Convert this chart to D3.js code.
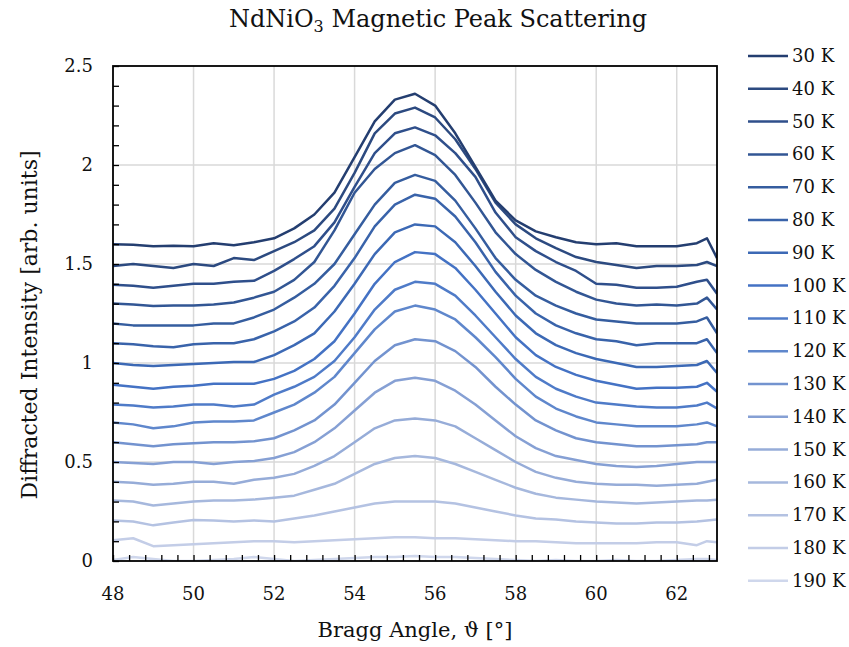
<!DOCTYPE html>
<html>
<head>
<meta charset="utf-8">
<script src="https://cdn.jsdelivr.net/npm/d3@7"></script>
<style>
  body { margin: 0; background: #fff; }
  text { font-family: "DejaVu Serif", "Liberation Serif", serif; fill: #111; }
</style>
</head>
<body>
<svg id="chart" width="849" height="647"></svg>
<script>
// Bragg angle samples (deg)
const angles = [48, 48.5, 49, 49.5, 50, 50.5, 51, 51.5, 52, 52.5, 53, 53.5, 54, 54.5, 55, 55.5,
  56, 56.5, 57, 57.5, 58, 58.5, 59, 59.5, 60, 60.5, 61, 61.5, 62, 62.5, 62.75, 63];

const temps = [30, 40, 50, 60, 70, 80, 90, 100, 110, 120, 130, 140, 150, 160, 170, 180, 190];

const s30 = [1.600, 1.597, 1.590, 1.592, 1.590, 1.605, 1.595, 1.610, 1.630, 1.680, 1.750, 1.860, 2.040, 2.220, 2.330, 2.360,
  2.300, 2.160, 1.990, 1.820, 1.720, 1.665, 1.635, 1.610, 1.600, 1.605, 1.590, 1.590, 1.590, 1.605, 1.630, 1.530];
const s40 = [1.49, 1.50, 1.49, 1.48, 1.50, 1.49, 1.53, 1.52, 1.565, 1.61, 1.67, 1.78, 1.96, 2.16, 2.26, 2.29,
  2.24, 2.13, 1.98, 1.81, 1.70, 1.63, 1.58, 1.535, 1.51, 1.495, 1.48, 1.49, 1.49, 1.495, 1.51, 1.49];
const s50 = [1.395, 1.39, 1.38, 1.39, 1.40, 1.40, 1.41, 1.415, 1.465, 1.525, 1.59, 1.71, 1.89, 2.06, 2.16, 2.19,
  2.15, 2.06, 1.94, 1.76, 1.635, 1.565, 1.51, 1.465, 1.40, 1.395, 1.38, 1.38, 1.385, 1.41, 1.42, 1.35];
const s60 = [1.30, 1.295, 1.288, 1.29, 1.29, 1.295, 1.306, 1.33, 1.36, 1.42, 1.51, 1.67, 1.86, 1.98, 2.06, 2.10,
  2.05, 1.95, 1.81, 1.66, 1.55, 1.47, 1.41, 1.36, 1.32, 1.30, 1.29, 1.295, 1.29, 1.30, 1.33, 1.27];
const s70 = [1.20, 1.19, 1.19, 1.19, 1.19, 1.20, 1.20, 1.23, 1.27, 1.33, 1.40, 1.50, 1.65, 1.80, 1.91, 1.95,
  1.92, 1.82, 1.68, 1.53, 1.42, 1.34, 1.29, 1.25, 1.22, 1.21, 1.20, 1.20, 1.20, 1.21, 1.23, 1.15];
const s80 = [1.10, 1.095, 1.085, 1.08, 1.095, 1.10, 1.10, 1.12, 1.16, 1.21, 1.28, 1.39, 1.53, 1.69, 1.80, 1.85,
  1.83, 1.74, 1.61, 1.46, 1.34, 1.25, 1.19, 1.15, 1.12, 1.11, 1.09, 1.10, 1.10, 1.10, 1.12, 1.05];
const s90 = [1.00, 0.99, 0.985, 0.99, 0.995, 1.00, 1.005, 1.005, 1.04, 1.09, 1.15, 1.26, 1.40, 1.55, 1.66, 1.70,
  1.69, 1.61, 1.49, 1.36, 1.24, 1.15, 1.09, 1.05, 1.02, 1.00, 0.98, 0.98, 0.985, 0.99, 1.01, 0.95];
const s100 = [0.89, 0.88, 0.87, 0.88, 0.885, 0.895, 0.895, 0.895, 0.92, 0.96, 1.02, 1.11, 1.25, 1.40, 1.51, 1.56,
  1.55, 1.48, 1.37, 1.25, 1.13, 1.04, 0.98, 0.94, 0.91, 0.89, 0.87, 0.875, 0.875, 0.88, 0.90, 0.855];
const s110 = [0.79, 0.785, 0.775, 0.78, 0.79, 0.79, 0.78, 0.79, 0.84, 0.88, 0.93, 1.01, 1.13, 1.27, 1.37, 1.41,
  1.40, 1.34, 1.24, 1.13, 1.02, 0.93, 0.87, 0.83, 0.80, 0.79, 0.78, 0.775, 0.775, 0.785, 0.80, 0.77];
const s120 = [0.70, 0.69, 0.67, 0.68, 0.70, 0.705, 0.705, 0.71, 0.75, 0.79, 0.85, 0.93, 1.05, 1.17, 1.26, 1.29,
  1.27, 1.22, 1.13, 1.03, 0.92, 0.83, 0.77, 0.73, 0.70, 0.69, 0.68, 0.68, 0.68, 0.69, 0.70, 0.68];
const s130 = [0.60, 0.59, 0.58, 0.59, 0.595, 0.60, 0.60, 0.605, 0.62, 0.66, 0.71, 0.79, 0.90, 1.01, 1.09, 1.12,
  1.11, 1.06, 0.98, 0.88, 0.79, 0.71, 0.66, 0.62, 0.60, 0.59, 0.58, 0.58, 0.585, 0.59, 0.60, 0.60];
const s140 = [0.50, 0.495, 0.49, 0.50, 0.50, 0.49, 0.50, 0.505, 0.52, 0.55, 0.60, 0.67, 0.76, 0.85, 0.91, 0.925,
  0.91, 0.86, 0.79, 0.71, 0.63, 0.57, 0.53, 0.51, 0.49, 0.48, 0.475, 0.48, 0.49, 0.50, 0.50, 0.50];
const s150 = [0.40, 0.395, 0.385, 0.39, 0.40, 0.40, 0.39, 0.41, 0.42, 0.44, 0.48, 0.53, 0.60, 0.67, 0.71, 0.72,
  0.71, 0.68, 0.62, 0.56, 0.50, 0.45, 0.42, 0.40, 0.39, 0.385, 0.385, 0.38, 0.385, 0.39, 0.40, 0.41];
const s160 = [0.305, 0.30, 0.28, 0.29, 0.30, 0.305, 0.305, 0.31, 0.32, 0.33, 0.36, 0.39, 0.44, 0.49, 0.52, 0.53,
  0.52, 0.49, 0.45, 0.41, 0.37, 0.34, 0.32, 0.31, 0.30, 0.295, 0.29, 0.295, 0.30, 0.305, 0.305, 0.31];
const s170 = [0.205, 0.20, 0.18, 0.195, 0.207, 0.205, 0.20, 0.205, 0.20, 0.215, 0.23, 0.25, 0.27, 0.29, 0.30, 0.30,
  0.30, 0.29, 0.27, 0.25, 0.23, 0.215, 0.21, 0.20, 0.195, 0.19, 0.19, 0.195, 0.195, 0.20, 0.205, 0.21];
const s180 = [0.105, 0.115, 0.075, 0.08, 0.085, 0.09, 0.095, 0.10, 0.10, 0.095, 0.10, 0.105, 0.11, 0.115, 0.12, 0.12,
  0.115, 0.115, 0.11, 0.105, 0.10, 0.10, 0.095, 0.09, 0.09, 0.09, 0.09, 0.095, 0.095, 0.08, 0.10, 0.095];
const s190 = [0.005, 0.02, 0.01, 0.0, 0.0, 0.005, 0.01, 0.02, 0.01, 0.0, 0.005, 0.01, 0.015, 0.02, 0.02, 0.025,
  0.02, 0.02, 0.015, 0.01, 0.005, 0.0, 0.005, 0.0, 0.0, 0.005, 0.0, 0.0, 0.005, 0.01, 0.01, 0.005];

const seriesValues = [s30, s40, s50, s60, s70, s80, s90, s100, s110, s120, s130, s140, s150, s160, s170, s180, s190];

const colors = ['#243e70', '#2c4a80', '#2f4f8b', '#325694', '#355d9f', '#3963aa', '#3c69b5', '#4472c4', '#4f7bc8',
  '#5f87cc', '#7393cf', '#86a0d4', '#96acd8', '#a6b8dd', '#b4c2e2', '#c3cde7', '#cfd7ec'];

const xTicks = [48, 50, 52, 54, 56, 58, 60, 62];
const yTicks = [0, 0.5, 1, 1.5, 2, 2.5];

const margin = { left: 113, right: 717, top: 66, bottom: 561 };

const svg = d3.select('#chart');

const x = d3.scaleLinear().domain([48, 63]).range([margin.left, margin.right]);
const y = d3.scaleLinear().domain([0, 2.5]).range([margin.bottom, margin.top]);

// grid
svg.append('g')
  .selectAll('line')
  .data(xTicks.filter(d => d > 48))
  .enter()
  .append('line')
  .attr('x1', d => x(d)).attr('x2', d => x(d))
  .attr('y1', margin.top).attr('y2', margin.bottom)
  .attr('stroke', '#d9d9d9').attr('stroke-width', 1.5);

svg.append('g')
  .selectAll('line')
  .data(yTicks.filter(d => d > 0 && d < 2.5))
  .enter()
  .append('line')
  .attr('x1', margin.left).attr('x2', margin.right)
  .attr('y1', d => y(d)).attr('y2', d => y(d))
  .attr('stroke', '#d9d9d9').attr('stroke-width', 1.5);

// lines
svg.append('clipPath').attr('id', 'clip')
  .append('rect')
  .attr('x', margin.left).attr('y', margin.top)
  .attr('width', margin.right - margin.left).attr('height', margin.bottom - margin.top);

const line = d3.line()
  .x((d, i) => x(angles[i]))
  .y(d => y(d));

svg.append('g')
  .attr('clip-path', 'url(#clip)')
  .selectAll('path')
  .data(seriesValues.slice().reverse())
  .enter()
  .append('path')
  .attr('d', d => line(d))
  .attr('fill', 'none')
  .attr('stroke', (d, i) => colors[colors.length - 1 - i])
  .attr('stroke-width', 2.5)
  .attr('stroke-linejoin', 'round');

// axes with inward ticks
const yAxis = d3.axisRight(y)
  .tickValues(d3.range(0, 2.51, 0.1))
  .tickSize(6)
  .tickFormat('');
svg.append('g')
  .attr('transform', `translate(${margin.left},0)`)
  .call(yAxis)
  .call(g => g.select('.domain').remove())
  .selectAll('line').attr('stroke', '#000').attr('stroke-width', 1.3);

const xAxis = d3.axisTop(x)
  .tickValues(d3.range(48, 63.01, 0.4))
  .tickSize(6)
  .tickFormat('');
svg.append('g')
  .attr('transform', `translate(0,${margin.bottom})`)
  .call(xAxis)
  .call(g => g.select('.domain').remove())
  .selectAll('line').attr('stroke', '#000').attr('stroke-width', 1.3);

svg.append('rect')
  .attr('x', margin.left).attr('y', margin.top)
  .attr('width', margin.right - margin.left).attr('height', margin.bottom - margin.top)
  .attr('fill', 'none').attr('stroke', '#000').attr('stroke-width', 1.8);

// tick labels
svg.append('g')
  .selectAll('text')
  .data(yTicks)
  .enter()
  .append('text')
  .attr('x', 93)
  .attr('y', d => y(d) + 6)
  .attr('text-anchor', 'end')
  .attr('font-size', 18)
  .text(d => d);

svg.append('g')
  .selectAll('text')
  .data(xTicks)
  .enter()
  .append('text')
  .attr('x', d => x(d))
  .attr('y', 600)
  .attr('text-anchor', 'middle')
  .attr('font-size', 18)
  .text(d => d);

// titles
const title = svg.append('text')
  .attr('x', 438).attr('y', 27)
  .attr('text-anchor', 'middle')
  .attr('font-size', 24);
title.append('tspan').text('NdNiO');
title.append('tspan').attr('font-size', 16).attr('dy', 5).text('3');
title.append('tspan').attr('dy', -5).text(' Magnetic Peak Scattering');

svg.append('text')
  .attr('x', 415).attr('y', 637)
  .attr('text-anchor', 'middle')
  .attr('font-size', 21)
  .text('Bragg Angle, ϑ [°]');

svg.append('text')
  .attr('transform', 'translate(37,325) rotate(-90)')
  .attr('text-anchor', 'middle')
  .attr('font-size', 22)
  .text('Diffracted Intensity [arb. units]');

// legend
const legend = svg.append('g')
  .selectAll('g')
  .data(temps)
  .enter()
  .append('g')
  .attr('transform', (d, i) => `translate(748, ${56 + i * 32.8})`);

legend.append('line')
  .attr('x1', 0).attr('x2', 40)
  .attr('stroke', (d, i) => colors[i])
  .attr('stroke-width', 2.5);

legend.append('text')
  .attr('x', 44).attr('y', 6)
  .attr('font-size', 18)
  .text(d => `${d} K`);
</script>
</body>
</html>
